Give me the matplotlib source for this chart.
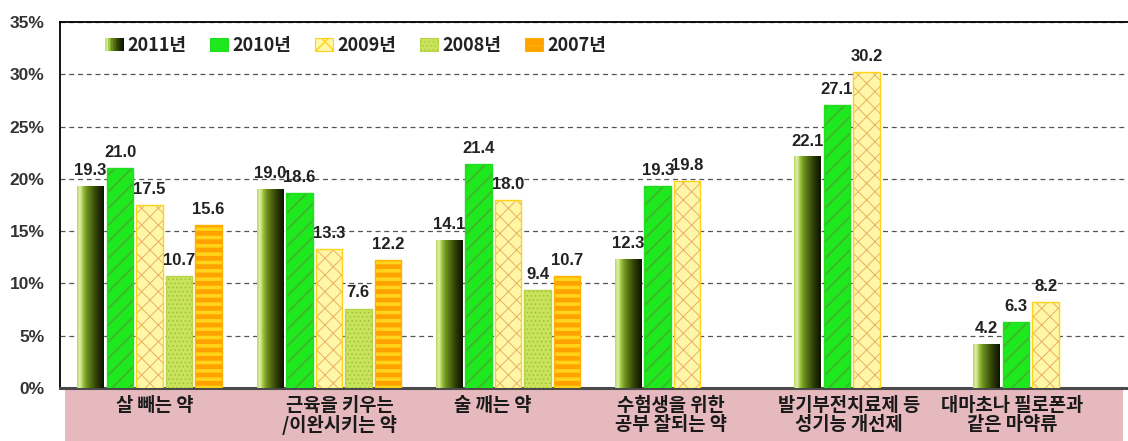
import numpy as np
import matplotlib
matplotlib.use("Agg")
import matplotlib.pyplot as plt
from matplotlib.patches import Rectangle, Patch
from matplotlib.colors import LinearSegmentedColormap
from matplotlib.legend_handler import HandlerBase
from matplotlib.ticker import FuncFormatter

# ------------------------------------------------------------
# 데이터
# ------------------------------------------------------------
categories = [
    "살 빼는 약",
    "근육을 키우는\n/이완시키는 약",
    "술 깨는 약",
    "수험생을 위한\n공부 잘되는 약",
    "발기부전치료제 등\n성기능 개선제",
    "대마초나 필로폰과\n같은 마약류",
]
years = ["2011년", "2010년", "2009년", "2008년", "2007년"]
v2011 = [19.3, 19.0, 14.1, 12.3, 22.1, 4.2]
v2010 = [21.0, 18.6, 21.4, 19.3, 27.1, 6.3]
v2009 = [17.5, 13.3, 18.0, 19.8, 30.2, 8.2]
v2008 = [10.7, 7.6, 9.4, None, None, None]
v2007 = [15.6, 12.2, 10.7, None, None, None]
series = [v2011, v2010, v2009, v2008, v2007]
yticks = [0, 5, 10, 15, 20, 25, 30, 35]

# ------------------------------------------------------------
# 레이아웃 / 스타일
# ------------------------------------------------------------
W, H = 1128, 441
NUM_FONT = ["Liberation Sans Narrow", "Liberation Sans", "DejaVu Sans"]
KR_FONT = ["Noto Sans CJK KR", "DejaVu Sans"]
label_x_px = [155, 340, 493, 671, 849, 1012]   # 분홍 표 안의 항목 위치

pitch, bar_w = 0.1646, 0.148
grad_cmap = LinearSegmentedColormap.from_list("g2011", [
    (0.0, "#b5d65a"), (0.1, "#e4f3b0"), (0.22, "#9cc43e"),
    (0.38, "#6b8c1c"), (0.72, "#2f3f05"), (1.0, "#0d1200")])
styles = [
    None,
    dict(face="#1ee81e", hatch="//", hcolor="#3fb82a", edge="#22dd22", hlw=1.4),
    dict(face="#fff6a8", hatch="xx", hcolor="#eab060", edge="#ffd21a", hlw=0.7),
    dict(face="#c9e45a", hatch="....", hcolor="#9cc23a", edge="#b5d24a", hlw=0.6),
    dict(face="#ffa200", hatch="--", hcolor="#ffd41a", edge="#ffb000", hlw=2.6),
]

fig = plt.figure(figsize=(W / 100, H / 100), dpi=100)
fig.patch.set_facecolor("white")
ax = fig.add_axes([60 / W, 53 / H, 1068 / W, 366 / H])

# 분홍 항목 띠
fig.add_artist(Rectangle((65 / W, 0), (1123 - 65) / W, (441 - 390) / H,
                         transform=fig.transFigure, facecolor="#e5b9bd",
                         edgecolor="none", zorder=0))

grad = grad_cmap(np.linspace(0, 1, 64))[None, :, :3]

for k, vals in enumerate(series):
    for i, v in enumerate(vals):
        if v is None:
            continue
        x = i + (k - 2) * pitch
        if k == 0:
            ax.imshow(grad, extent=[x - bar_w / 2, x + bar_w / 2, 0, v],
                      aspect="auto", interpolation="bicubic", zorder=3)
        else:
            st = styles[k]
            b = ax.bar(x, v, bar_w, color=st["face"], hatch=st["hatch"],
                       edgecolor=st["hcolor"], linewidth=0, zorder=3)
            b[0].set_hatch_linewidth(st["hlw"])
            ax.bar(x, v, bar_w, color="none", edgecolor=st["edge"],
                   linewidth=1.0, zorder=4)
        ax.annotate(f"{v:.1f}", (x, v), xytext=(0, 8), textcoords="offset points",
                    ha="center", va="baseline", fontsize=12, fontweight="bold",
                    family=NUM_FONT, color="#222222", zorder=6)

ax.set_xlim(-0.5, -0.5 + 1068 / 179.2)
ax.set_ylim(0, 35)
ax.set_xticks([])
ax.set_yticks(yticks)
ax.yaxis.set_major_formatter(FuncFormatter(lambda v, p: f"{v:.0f}%"))
ax.tick_params(axis="y", length=0, pad=11)
for t in ax.get_yticklabels():
    t.set_fontfamily(NUM_FONT)
    t.set_fontsize(12.5)
    t.set_fontweight("bold")
    t.set_color("#333333")

ax.grid(axis="y", linestyle=(0, (4, 3)), color="#555555", linewidth=0.9, zorder=1)
ax.set_axisbelow(True)
ax.spines["right"].set_visible(False)
ax.spines["top"].set_linewidth(1.3)
ax.spines["left"].set_linewidth(1.3)
ax.spines["bottom"].set_linewidth(2.2)
ax.spines["bottom"].set_color("#4a4a4a")


# 범례 (2011년 그라데이션 막대)
class GradientHandler(HandlerBase):
    def create_artists(self, legend, orig_handle, xdescent, ydescent,
                       width, height, fontsize, trans):
        n = 12
        arts = []
        for j in range(n):
            arts.append(Rectangle((-xdescent + width * j / n, -ydescent),
                                  width / n + 0.3, height,
                                  facecolor=grad_cmap((j + 0.5) / n),
                                  edgecolor="none", transform=trans))
        return arts


handles = [Patch(label=years[0])]
for k in range(1, 5):
    st = styles[k]
    handles.append(Patch(facecolor=st["face"], hatch=st["hatch"] if k > 1 else None,
                         edgecolor=st["edge"], linewidth=0.8, label=years[k]))
leg = ax.legend(handles=handles, handler_map={handles[0]: GradientHandler()},
                loc="center left", bbox_to_anchor=(0.027, 0.937), ncol=5,
                frameon=False, handlelength=1.0, handleheight=0.75,
                handletextpad=0.25, columnspacing=1.3,
                prop={"family": KR_FONT, "weight": "bold", "size": 13})
for t in leg.get_texts():
    t.set_color("#222222")

# 항목 이름
for name, px in zip(categories, label_x_px):
    fig.text(px / W, (441 - 396) / H, name, ha="center", va="top",
             family=KR_FONT, fontsize=13.5, fontweight="bold",
             color="#1a1a1a", linespacing=1.0)

fig.savefig("out.png", dpi=100)
